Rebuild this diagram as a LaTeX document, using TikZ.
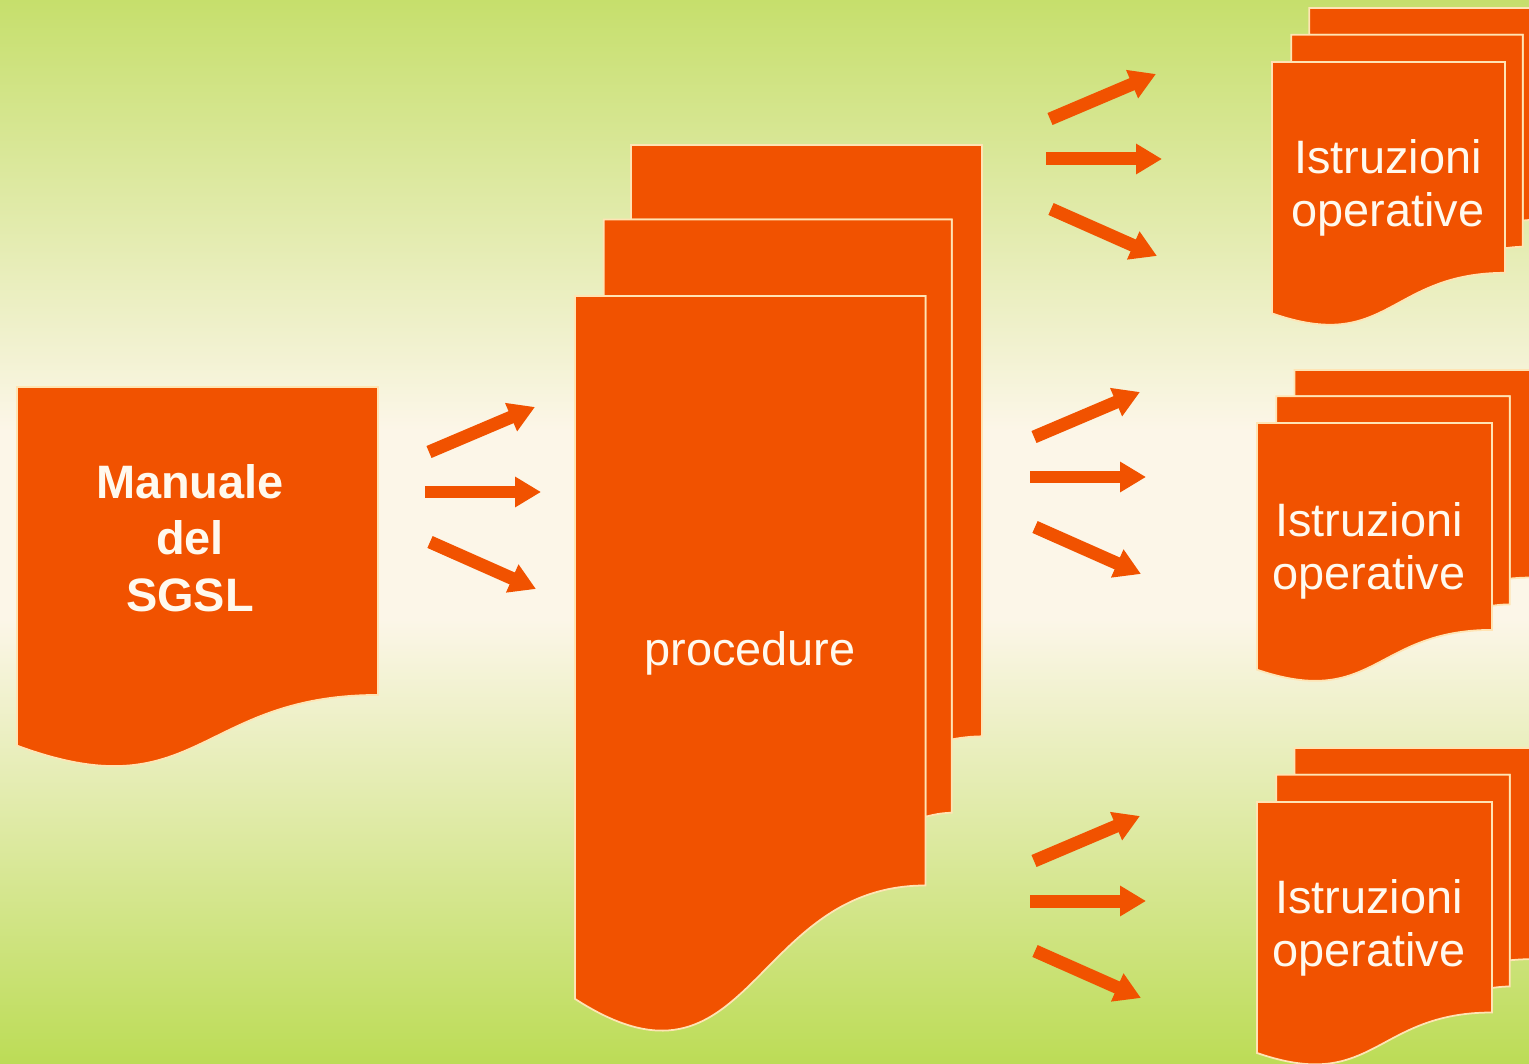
\documentclass[tikz,border=0pt]{standalone}
\usepackage{fontspec}
\setmainfont{Liberation Sans}
\usetikzlibrary{arrows.meta,calc}

\definecolor{docorange}{RGB}{241,82,0}
\definecolor{docedge}{RGB}{255,228,180}
\definecolor{doctxt}{RGB}{255,249,238}
\definecolor{bggreentop}{RGB}{198,223,108}
\definecolor{bggreenbot}{RGB}{188,220,86}
\definecolor{bgcream}{RGB}{252,246,232}

\pgfdeclareverticalshading{slidebg}{100bp}{color(0bp)=(bggreenbot); color(25bp)=(bggreenbot); color(45.9bp)=(bgcream); color(54.8bp)=(bgcream); color(75bp)=(bggreentop); color(100bp)=(bggreentop)}

\newcommand{\singledoc}[4]{%
  \begin{scope}[shift={(#1,#2)},xscale=#3,yscale=#4]
    \filldraw[docpage] (0,0) -- (1,0) -- (1,0.80194)
      .. controls (0.5,0.80194) and (0.5,1.10750) .. (0,0.93389) -- cycle;
  \end{scope}}

\newcommand{\multidoc}[4]{%
  \begin{scope}[shift={(#1,#2)},xscale=#3,yscale=#4]
    \filldraw[docpage] (0.13759,0.08403) -- (0.13759,0) -- (1,0) -- (1,0.66630)
      .. controls (0.96296,0.66630) and (0.92593,0.66977) .. (0.92593,0.66977) -- (0.92593,0.08403) -- cycle;
    \filldraw[docpage] (0.07093,0.17014) -- (0.07093,0.08403) -- (0.92593,0.08403) -- (0.92593,0.75241)
      .. controls (0.89343,0.75241) and (0.86088,0.75704) .. (0.86088,0.75704) -- (0.86088,0.17014) -- cycle;
    \filldraw[docpage] (0,0.17014) -- (0.86088,0.17014) -- (0.86088,0.83435)
      .. controls (0.43046,0.83435) and (0.43046,1.08991) .. (0,0.96213) -- cycle;
  \end{scope}}

\begin{document}
\begin{tikzpicture}[
    x=0.02cm, y=-0.02cm,
    docpage/.style={fill=docorange, draw=docedge, line width=1pt},
    doctext/.style={text=doctxt, align=center, font={\fontsize{26.7}{30}\selectfont}},
    fatarrow/.style={draw=docorange, line width=0.26cm, -{Triangle[length=0.52cm, width=0.58cm]}}
]
    \clip (0,0) rectangle (1529,1064);
    \shade[shading=slidebg] (0,0) rectangle (1529,1064);

    % documents
    \singledoc{17}{387}{361}{384}
    \multidoc{575}{145}{407}{887.5}
    \multidoc{1272}{8}{270.7}{317.4}
    \multidoc{1257}{370}{273}{311.5}
    \multidoc{1257}{748}{273}{317}

    \node[doctext, font={\fontsize{26.7}{32.3}\selectfont\bfseries}] (manual) at (190,538) {Manuale\\del\\SGSL};
    \node[doctext, anchor=base] (proc) at (750,665) {procedure};
    \node[doctext] (istrA) at (1388,188) {Istruzioni\\operative};
    \node[doctext] (istrB) at (1369,551) {Istruzioni\\operative};
    \node[doctext] (istrC) at (1369,928) {Istruzioni\\operative};

    % arrow fans
    \coordinate (fanL) at (425,492);
    \coordinate (fanA) at (1046,159);
    \coordinate (fanB) at (1030,477);
    \coordinate (fanC) at (1030,901);
    \foreach \f in {fanL,fanA,fanB,fanC}{
        \draw[fatarrow] ($(\f)+(4,-40)$) -- ++(106,-45);
        \draw[fatarrow] (\f) -- ++(116,0);
        \draw[fatarrow] ($(\f)+(5,50)$) -- ++(106,47);
    }
\end{tikzpicture}
\end{document}
